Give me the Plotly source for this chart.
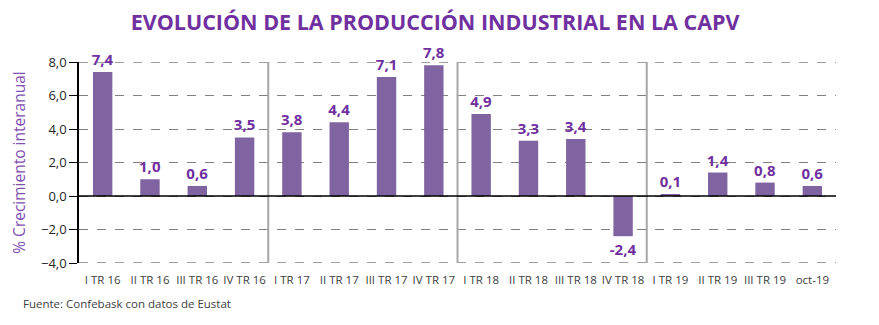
import plotly.graph_objects as go

categories = ["I TR 16", "II TR 16", "III TR 16", "IV TR 16",
              "I TR 17", "II TR 17", "III TR 17", "IV TR 17",
              "I TR 18", "II TR 18", "III TR 18", "IV TR 18",
              "I TR 19", "II TR 19", "III TR 19", "oct-19"]
values = [7.4, 1.0, 0.6, 3.5, 3.8, 4.4, 7.1, 7.8, 4.9, 3.3, 3.4, -2.4, 0.1, 1.4, 0.8, 0.6]
year_breaks = [3.5, 7.5, 11.5]
y_ticks = [-4, -2, 0, 2, 4, 6, 8]

FONT = "Open Sans"
PURPLE = "#7030A0"
BAR = "#8064A2"

fig = go.Figure()
fig.add_trace(go.Bar(
    x=categories, y=values, marker=dict(color=BAR, line=dict(width=0)),
    texttemplate="<b>%{y:.1f}</b>", textposition="outside", cliponaxis=False,
    constraintext="none", textangle=0,
    textfont=dict(family=FONT, size=15, color=PURPLE),
    width=0.41,
))

shapes = []
for yv in (y_ticks[0], y_ticks[-1]):
    shapes.append(dict(type="line", xref="paper", yref="y", x0=0, x1=1, y0=yv, y1=yv,
                       line=dict(color="#808080", width=1.3, dash="dash"), layer="below"))
for xb in year_breaks:
    shapes.append(dict(type="line", xref="x", yref="y", x0=xb, x1=xb, y0=-4, y1=8,
                       line=dict(color="#A6A6A6", width=2), layer="above"))
shapes.append(dict(type="line", xref="paper", yref="y", x0=0, x1=1, y0=0, y1=0,
                   line=dict(color="black", width=1.5), layer="above"))

fig.update_layout(
    width=879, height=325,
    margin=dict(l=79, r=43, t=62, b=62),
    paper_bgcolor="white", plot_bgcolor="white",
    separators=",.",
    showlegend=False,
    bargap=0.59,
    shapes=shapes,
    title=dict(text="<b>EVOLUCIÓN DE LA PRODUCCIÓN INDUSTRIAL EN LA CAPV</b>",
               x=0.495, xanchor="center", y=0.93, yanchor="middle", yref="container",
               font=dict(family=FONT, size=21.5, color=PURPLE)),
    xaxis=dict(tickfont=dict(family=FONT, size=11.5, color="#404040"), showgrid=False,
               showline=False, ticks="outside", ticklen=6, tickcolor="rgba(0,0,0,0)",
               tickangle=0, range=[-0.5, 15.5]),
    yaxis=dict(range=[-4, 8], tickvals=y_ticks, tickformat=".1f",
               tickfont=dict(family=FONT, size=13, color="#262626"),
               showgrid=True, gridcolor="#808080", griddash="dash", gridwidth=1.3,
               zeroline=False, showline=True, linecolor="black", linewidth=1.5,
               ticks="outside", ticklen=8, tickcolor="black",
               title=dict(text="% Crecimiento interanual", standoff=12,
                          font=dict(family=FONT, size=15.5, color="#7F4FB3"))),
    annotations=[dict(text="Fuente: Confebask con datos de Eustat", xref="paper", yref="paper",
                      x=-0.077, y=-0.2, xanchor="left", yanchor="middle", showarrow=False,
                      font=dict(family=FONT, size=11.5, color="#404040"))],
)

fig.write_html("out.html")
